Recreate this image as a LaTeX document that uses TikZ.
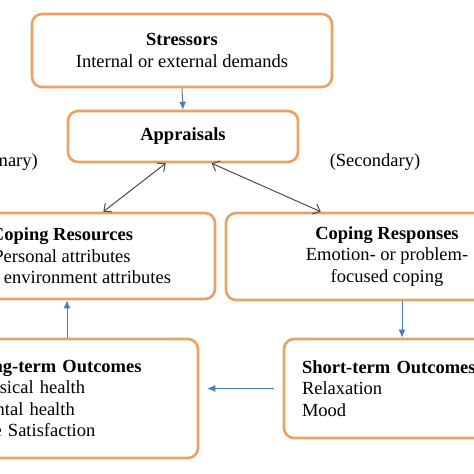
\documentclass[tikz,border=0pt]{standalone}
\usepackage{fontspec}
\setmainfont{Liberation Serif}
\usetikzlibrary{arrows.meta}
\definecolor{boxorange}{HTML}{E9A263}
\definecolor{arrowblue}{HTML}{4F7CB5}
\definecolor{arrowgray}{HTML}{4A4A4A}

\begin{document}
\begin{tikzpicture}[x=1pt, y=-1pt, align=center,
    font=\fontsize{18.5}{21.5}\selectfont,
    box/.style={draw=boxorange, line width=2.6pt, rounded corners=10pt, inner sep=0pt},
    flow/.style={-{Latex[length=8pt,width=7pt]}, arrowblue, line width=1pt},
    link/.style={{Straight Barb[length=6pt,width=11pt]}-{Straight Barb[length=6pt,width=11pt]}, arrowgray, line width=1pt}]
      \useasboundingbox (0,0) rectangle (474,474);
      \clip (0,0) rectangle (474,474);

      \node[box, minimum width=300pt, minimum height=73pt] (str) at (182,50.5) {\textbf{Stressors}\\ Internal or external demands};
      \node[box, minimum width=230pt, minimum height=51pt] (apr) at (183,136.5) {\textbf{Appraisals}};
      \node[box, minimum width=306pt, minimum height=86pt] (res) at (62,256) {\textbf{Coping Resources}\\ Personal attributes\\ Social environment attributes};
      \node[box, minimum width=322pt, minimum height=87pt] (resp) at (387,256.5) {\textbf{Coping Responses}\\ Emotion- or problem-\\ focused coping};
      \node[box, minimum height=119pt, text width=211pt, inner xsep=16pt, align=left] (long) at (76.5,398.5) {\textbf{Long-term Outcomes}\\ Physical health\\ Mental health\\ Life Satisfaction};
      \node[box, minimum height=99pt, text width=184pt, inner xsep=18pt, align=left] (short) at (394,388.5) {\textbf{Short-term Outcomes}\\ Relaxation\\ Mood};

      \node[inner sep=0pt, anchor=east] (prim) at (38,162) {(Primary)};
      \node[inner sep=0pt] (sec) at (375,162) {(Secondary)};

      \draw[flow] (str.south) -- (apr.north);
      \draw[link] ([xshift=99pt]apr.south west) -- ([xshift=-113pt]res.north east);
      \draw[link] ([xshift=145pt]apr.south west) -- ([xshift=96pt]resp.north west);
      \draw[flow] ([xshift=15pt]resp.south) -- ([xshift=15pt]resp.south |- short.north);
      \draw[flow] ([xshift=-9pt]short.west) -- ([xshift=8pt]short.west -| long.east);
      \draw[flow] ([xshift=5pt]res.south |- long.north) -- ([xshift=5pt]res.south);
    \end{tikzpicture}
\end{document}
